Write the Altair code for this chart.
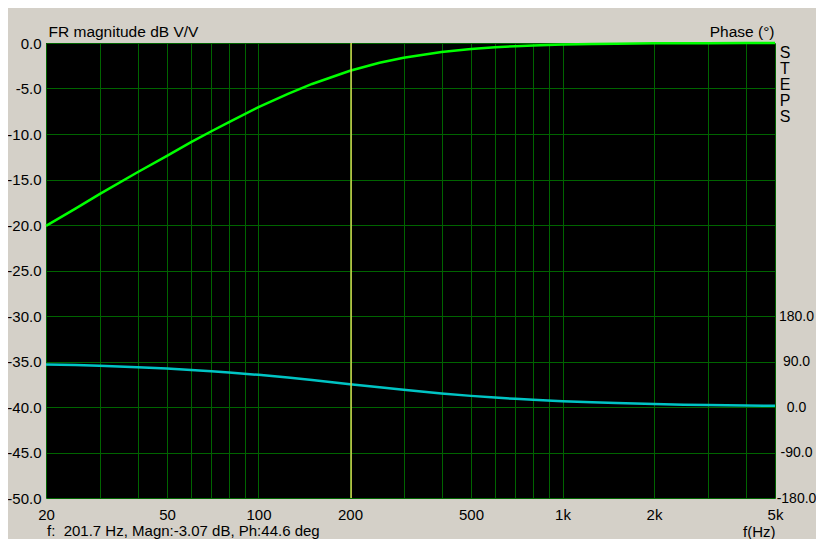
import altair as alt
import pandas as pd

# Frequencies (Hz) at which the curves were read
freq = [20, 25, 30, 40, 50, 60, 70, 80, 100, 125, 150, 200, 250, 300, 400,
        500, 600, 700, 800, 1000, 1250, 1500, 2000, 2500, 3000, 4000, 5000]
# Magnitude (dB V/V)
magnitude_db = [-20.1, -18.2, -16.6, -14.2, -12.4, -10.9, -9.7, -8.7, -7.05, -5.6,
                -4.5, -3.05, -2.18, -1.62, -0.98, -0.66, -0.46, -0.35, -0.27, -0.17,
                -0.11, -0.08, -0.04, -0.03, -0.02, -0.01, -0.01]
# Phase (degrees)
phase_deg = [84.3, 82.9, 81.5, 78.8, 76.1, 73.4, 70.9, 68.4, 63.6, 58.2, 53.4,
             45.2, 38.9, 33.9, 26.8, 22.0, 18.6, 16.1, 14.2, 11.4, 9.2, 7.7,
             5.8, 4.6, 3.8, 2.9, 2.3]

grid_freqs = [20, 30, 40, 50, 60, 70, 80, 90, 100, 200, 300, 400, 500, 600, 700,
              800, 900, 1000, 2000, 3000, 4000, 5000]
mag_ticks = [-50, -45, -40, -35, -30, -25, -20, -15, -10, -5, 0]
phase_ticks = [-180, -90, 0, 90, 180]
cursor_freq = 201.7
status_text = "f:\u00a0 201.7 Hz, Magn:-3.07 dB, Ph:44.6 deg"
steps_text = "S\nT\nE\nP\nS"

df = pd.DataFrame({"freq": freq, "mag": magnitude_db, "phase": phase_deg})

FONT = "Liberation Sans"
GRID = "#006400"

x_enc = alt.X(
    "freq:Q",
    scale=alt.Scale(type="log", domain=[20, 5000], nice=False),
    axis=alt.Axis(
        values=grid_freqs,
        labelExpr="indexof([20,50,100,200,500],datum.value)>=0 ? '' + datum.value : "
                  "(indexof([1000,2000,5000],datum.value)>=0 ? (datum.value/1000) + 'k' : '')",
        grid=True, gridColor=GRID, gridOpacity=1, gridWidth=1,
        ticks=False, domain=False, labelPadding=9, labelOverlap=False,
        labelFlush=False, labelBound=False,
        title="f(Hz)", titleAlign="right", titleAnchor="end", titleX=729, titleY=38,
        titleBaseline="alphabetic", titleFontWeight="normal",
    ),
)

mag = alt.Chart(df).mark_line(color="#00FF00", strokeWidth=2.5).encode(
    x=x_enc,
    y=alt.Y(
        "mag:Q",
        scale=alt.Scale(domain=[-50, 0], nice=False, zero=False),
        axis=alt.Axis(
            values=mag_ticks,
            labelExpr="replace(format(datum.value, '.1f'), '\u2212', '-')",
            grid=True, gridColor=GRID, gridOpacity=1, gridWidth=1,
            ticks=False, domain=False, labelPadding=5, labelFlush=False,
            labelBound=False, labelOverlap=False,
            title="FR magnitude dB V/V", titleAngle=0, titleAlign="left",
            titleBaseline="alphabetic", titleX=2, titleY=-6.5,
            titleFontWeight="normal", titleFontSize=15.5,
        ),
    ),
)

phase = alt.Chart(df).mark_line(color="#00C4C4", strokeWidth=2.5).encode(
    x=alt.X("freq:Q"),
    y=alt.Y(
        "phase:Q",
        scale=alt.Scale(domain=[-180, 720], nice=False, zero=False),
        axis=alt.Axis(
            orient="right", values=phase_ticks,
            labelExpr="replace(format(datum.value, '.1f'), '\u2212', '-')",
            grid=False, ticks=False, domain=False, labelAlign="center",
            labelFontSize=14,
            labelPadding=21, labelFlush=False, labelBound=False, labelOverlap=False,
            title="Phase (\u00b0)", titleAngle=0, titleAlign="right",
            titleBaseline="alphabetic", titleX=-1, titleY=-6.5,
            titleFontWeight="normal", titleFontSize=15.5,
        ),
    ),
)

cursor = alt.Chart(pd.DataFrame({"f": [cursor_freq]})).mark_rule(
    color="#D0D850", strokeWidth=1.5
).encode(x=alt.X("f:Q"))

steps = alt.Chart(pd.DataFrame({"t": [steps_text]})).mark_text(
    font=FONT, fontSize=16, lineBreak="\n", lineHeight=16, baseline="top",
    align="center", color="black"
).encode(x=alt.value(739), y=alt.value(2), text="t:N")

status = alt.Chart(pd.DataFrame({"t": [status_text]})).mark_text(
    font=FONT, fontSize=15, baseline="alphabetic", align="left", color="black"
).encode(x=alt.value(1), y=alt.value(493), text="t:N")

chart = alt.layer(mag, phase, cursor, steps, status).resolve_scale(
    y="independent"
).properties(
    width=729, height=455,
    autosize=alt.AutoSizeParams(type="none"),
    padding={"left": 38, "top": 35, "right": 41, "bottom": 41},
    background="#D4D0C8",
).configure_view(
    fill="black", stroke=None
).configure_axis(
    labelFont=FONT, labelFontSize=15, labelColor="black",
    titleFont=FONT, titleFontSize=15, titleColor="black",
)

chart.save("out.html", embed_options={"renderer": "svg", "actions": False})
